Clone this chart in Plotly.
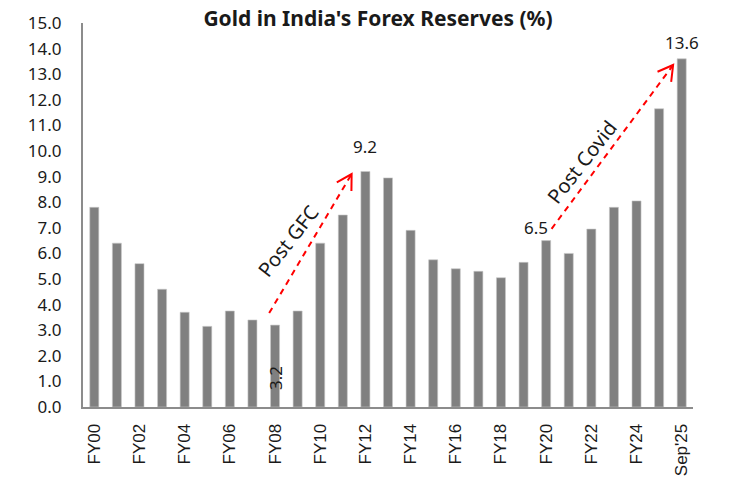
import math
import plotly.graph_objects as go

# Gold share of India's forex reserves, %
categories = ["FY00", "FY01", "FY02", "FY03", "FY04", "FY05", "FY06", "FY07", "FY08",
              "FY09", "FY10", "FY11", "FY12", "FY13", "FY14", "FY15", "FY16", "FY17",
              "FY18", "FY19", "FY20", "FY21", "FY22", "FY23", "FY24", "FY25", "Sep'25"]
gold_share = [7.8, 6.4, 5.6, 4.6, 3.7, 3.15, 3.75, 3.4, 3.2,
              3.75, 6.4, 7.5, 9.2, 8.95, 6.9, 5.75, 5.4, 5.3,
              5.05, 5.65, 6.5, 6.0, 6.95, 7.8, 8.05, 11.65, 13.6]
tick_every = 2

# Layout geometry (px) used to keep arrowheads undistorted
W, H = 734, 478
M_L, M_R, M_T, M_B = 83, 41, 23, 71
Y_MAX = 15
n = len(categories)
px_x = (W - M_L - M_R) / n
px_y = (H - M_T - M_B) / Y_MAX

idx = list(range(n))
FONT = "Noto Sans"
TXT = "#1a1a1a"

fig = go.Figure(go.Bar(
    x=idx, y=gold_share, width=0.4,
    marker=dict(color="#808080", line=dict(color="#c8c8c8", width=0.6)),
    hoverinfo="x+y",
))


def pos(label):
    return categories.index(label)


def trend_arrow(x0, y0, x1, y1, text, text_angle, text_off):
    """Dashed red arrow with an open head plus a label running alongside."""
    fig.add_shape(type="line", xref="x", yref="y", x0=x0, y0=y0, x1=x1, y1=y1,
                  line=dict(color="#ff0000", width=2, dash="6px,5px"))
    dx, dy = (x1 - x0) * px_x, (y1 - y0) * px_y
    ang = math.atan2(dy, dx)
    pts = []
    for s in (1, -1):
        a = ang + math.pi + s * math.radians(30)
        pts.append((x1 + 17 * math.cos(a) / px_x, y1 + 17 * math.sin(a) / px_y))
    path = (f"M {pts[0][0]},{pts[0][1]} L {x1},{y1} L {pts[1][0]},{pts[1][1]}")
    fig.add_shape(type="path", xref="x", yref="y", path=path,
                  line=dict(color="#ff0000", width=2))
    mx, my = (x0 + x1) / 2, (y0 + y1) / 2
    fig.add_annotation(x=mx, y=my, xref="x", yref="y", text=text, showarrow=False,
                       textangle=text_angle, xshift=text_off[0], yshift=text_off[1],
                       font=dict(family=FONT, size=20, color=TXT))


trend_arrow(pos("FY08") - 0.26, 3.67, pos("FY12") - 0.61, 9.1, "Post GFC", -52, (-22, 3))
trend_arrow(pos("FY20") + 0.24, 6.96, pos("Sep'25") - 0.38, 13.36, "Post Covid", -52, (-30, -15))

# Value callouts
lab = dict(family=FONT, size=17, color=TXT)
i08 = pos("FY08")
fig.add_annotation(x=i08, y=0, text=f"{gold_share[i08]:.1f}", showarrow=False,
                   textangle=-90, yanchor="bottom", yshift=15, font=lab)
i12 = pos("FY12")
fig.add_annotation(x=i12, y=gold_share[i12], text=f"{gold_share[i12]:.1f}", showarrow=False,
                   yanchor="bottom", yshift=11, font=lab)
i20 = pos("FY20")
fig.add_annotation(x=i20, y=gold_share[i20], text=f"{gold_share[i20]:.1f}", showarrow=False,
                   xanchor="right", yanchor="middle", xshift=4, yshift=13, font=lab)
il = pos("Sep'25")
fig.add_annotation(x=il, y=gold_share[il], text=f"{gold_share[il]:.1f}", showarrow=False,
                   yanchor="bottom", yshift=3, font=lab)

fig.update_layout(
    width=W, height=H,
    margin=dict(l=M_L, r=M_R, t=M_T, b=M_B, pad=0, autoexpand=False),
    paper_bgcolor="white", plot_bgcolor="white",
    showlegend=False,
    title=dict(text="<b>Gold in India's Forex Reserves (%)</b>", x=0.515, xanchor="center",
               yref="container", y=1 - 19 / H, yanchor="middle",
               font=dict(family=FONT, size=21, color=TXT)),
    xaxis=dict(range=[-0.5, n - 0.5], tickmode="array",
               tickvals=idx[::tick_every], ticktext=categories[::tick_every],
               tickangle=-90, showline=True, linecolor="#8c8c8c", linewidth=2,
               ticks="", showgrid=False, zeroline=False, ticklabelstandoff=8,
               automargin=False,
               tickfont=dict(family="Liberation Sans", size=17, color=TXT)),
    yaxis=dict(range=[0, Y_MAX], dtick=1, tickformat=".1f", showline=True,
               linecolor="#8c8c8c", linewidth=2, ticks="", showgrid=False,
               zeroline=False, ticklabelstandoff=16, automargin=False,
               tickfont=dict(family=FONT, size=17, color=TXT)),
)

fig.write_html("out.html")
